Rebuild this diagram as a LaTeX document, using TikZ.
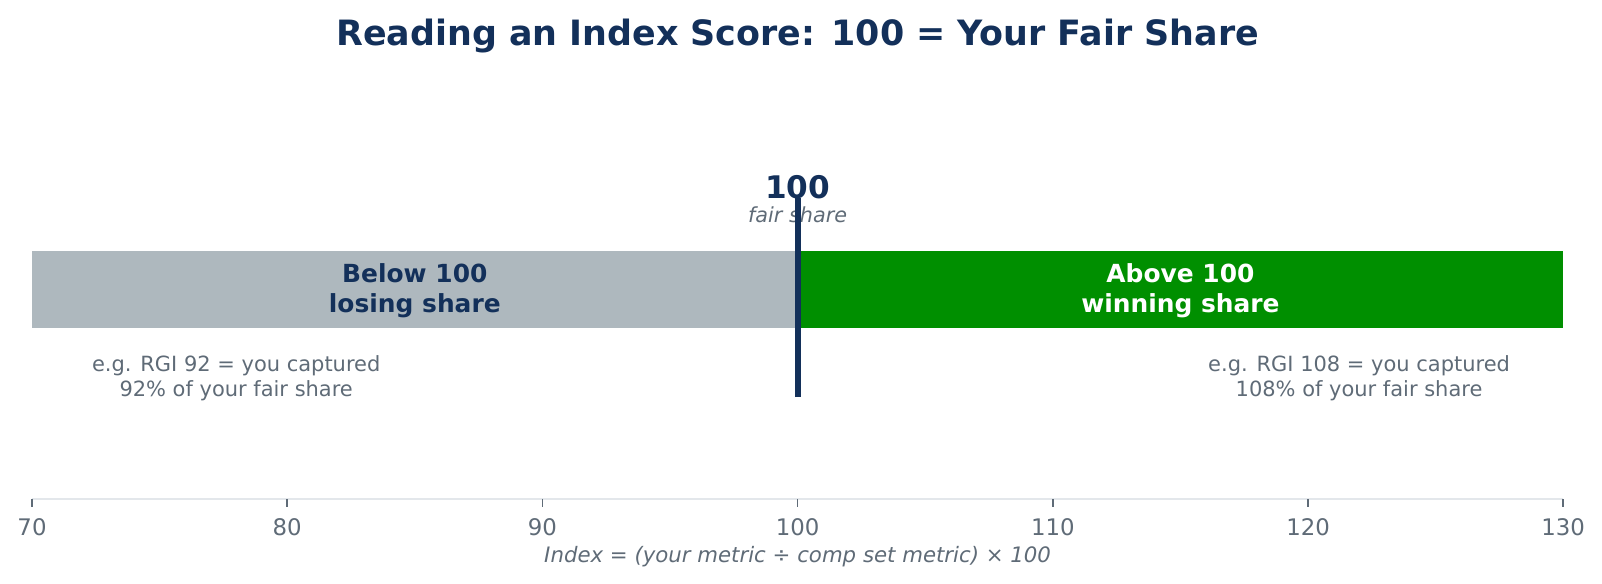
\documentclass[tikz,border=0pt]{standalone}
\usepackage{fontspec}
\setmainfont{DejaVu Sans}
\definecolor{navy}{HTML}{13305A}
\definecolor{slate}{HTML}{5F6B77}
\definecolor{barGrey}{HTML}{AEB8BE}
\definecolor{barGreen}{HTML}{008F00}
\definecolor{axisGrey}{HTML}{E3E7EB}
\tikzset{
  barlabel/.style={font=\bfseries\fontsize{12}{14.4}\selectfont, align=center, inner sep=0pt},
  note/.style={text=slate, font=\fontsize{10.1}{11.8}\selectfont, align=center, inner sep=0pt},
  ticklabel/.style={text=slate, font=\fontsize{11}{13}\selectfont, inner sep=0pt}
}

\begin{document}
\begin{tikzpicture}[x=0.43214cm, y=0.016933cm]
    \useasboundingbox (68.746,0) rectangle (131.52,583);
    % title
    \node[text=navy, font=\bfseries\fontsize{16.8}{20}\selectfont, inner sep=0pt] (title) at (100,547) {Reading an Index Score: 100 = Your Fair Share};
    % the two halves
    \fill[barGrey] (70,255) rectangle (100,332);
    \fill[barGreen] (100,255) rectangle (130,332);
    \node[barlabel, text=navy] (below) at (85,292.5) {Below 100\\losing share};
    \node[barlabel, text=white] (above) at (115,292.5) {Above 100\\winning share};
    % the 100 marker
    \node[text=navy, font=\bfseries\fontsize{15}{18}\selectfont, inner sep=0pt] (hundred) at (100,396) {100};
    \node[text=slate, font=\itshape\fontsize{10}{12}\selectfont, inner sep=0pt] (fair) at (100,368) {fair share};
    \draw[navy, line width=2.9pt] (100,186) -- (100,385);
    % examples
    \node[note] (lowex) at (78,205) {e.g. RGI 92 = you captured\\92\% of your fair share};
    \node[note] (highex) at (122,205) {e.g. RGI 108 = you captured\\108\% of your fair share};
    % axis
    \draw[axisGrey, line width=1pt] (70,84) -- (130,84);
    \foreach \v in {70,80,...,130} {
      \draw[slate, line width=0.8pt] (\v,84) -- (\v,76);
      \node[ticklabel] (tick\v) at (\v,56) {\v};
    }
    \node[text=slate, font=\itshape\fontsize{10.25}{12}\selectfont, inner sep=0pt] (xlabel) at (100,26) {Index = (your metric ÷ comp set metric) × 100};
\end{tikzpicture}
\end{document}
